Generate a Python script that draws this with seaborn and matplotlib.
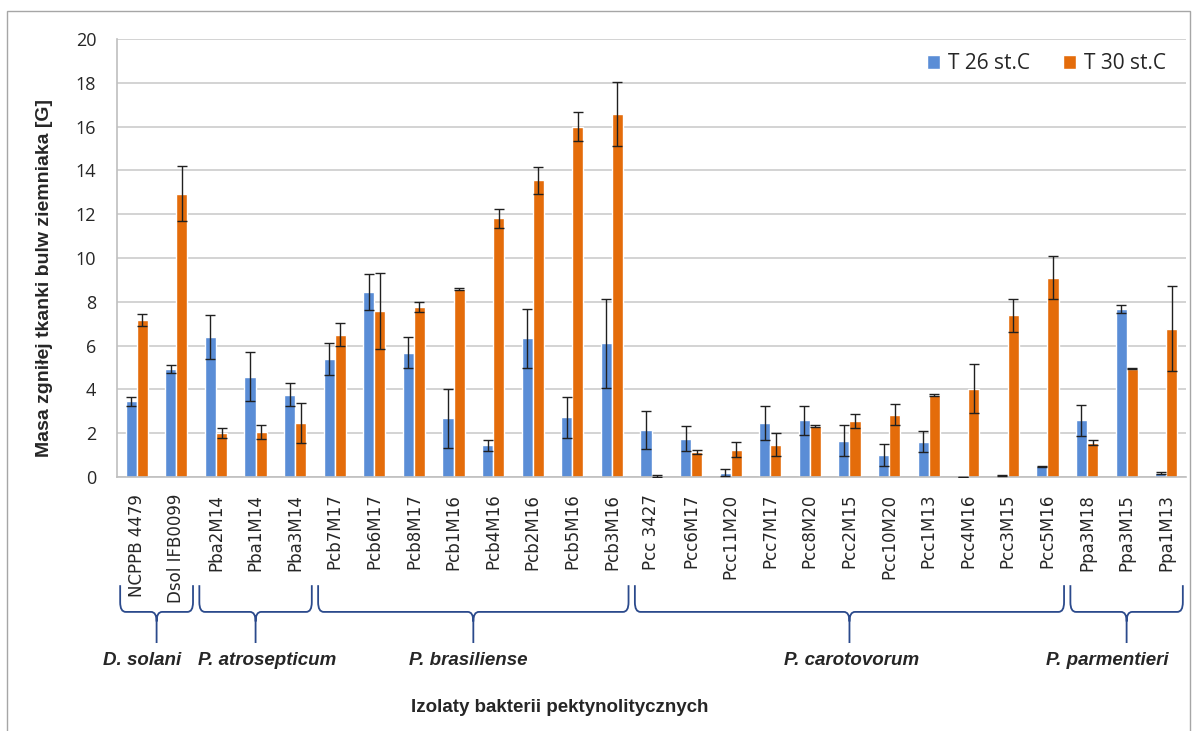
import numpy as np
import pandas as pd
import matplotlib
matplotlib.use("Agg")
import matplotlib.pyplot as plt
import matplotlib.transforms as mtransforms
from matplotlib.path import Path
from matplotlib.patches import PathPatch, Rectangle
import seaborn as sns

# --- data ---
isolates = ["NCPPB 4479", "Dsol IFB0099", "Pba2M14", "Pba1M14", "Pba3M14",
            "Pcb7M17", "Pcb6M17", "Pcb8M17", "Pcb1M16", "Pcb4M16", "Pcb2M16",
            "Pcb5M16", "Pcb3M16", "Pcc 3427", "Pcc6M17", "Pcc11M20", "Pcc7M17",
            "Pcc8M20", "Pcc2M15", "Pcc10M20", "Pcc1M13", "Pcc4M16", "Pcc3M15",
            "Pcc5M16", "Ppa3M18", "Ppa3M15", "Ppa1M13"]

t26 = [3.45, 4.94, 6.39, 4.57, 3.76, 5.39, 8.46, 5.67, 2.68, 1.44, 6.33,
       2.73, 6.10, 2.15, 1.75, 0.20, 2.46, 2.58, 1.66, 1.02, 1.60, 0.0,
       0.05, 0.48, 2.60, 7.67, 0.18]
t26_err = [0.20, 0.18, 1.00, 1.12, 0.53, 0.73, 0.82, 0.71, 1.34, 0.26, 1.36,
           0.93, 2.04, 0.87, 0.58, 0.17, 0.76, 0.67, 0.71, 0.50, 0.48, 0.0,
           0.02, 0.03, 0.71, 0.20, 0.03]

t30 = [7.17, 12.94, 2.01, 2.06, 2.46, 6.49, 7.58, 7.76, 8.60, 11.82, 13.55,
       16.00, 16.57, 0.05, 1.13, 1.24, 1.47, 2.33, 2.55, 2.85, 3.74, 4.04,
       7.38, 9.10, 1.57, 4.94, 6.77]
t30_err = [0.26, 1.26, 0.24, 0.32, 0.90, 0.52, 1.73, 0.21, 0.05, 0.44, 0.62,
           0.65, 1.45, 0.05, 0.09, 0.34, 0.53, 0.06, 0.32, 0.49, 0.06, 1.14,
           0.77, 0.97, 0.10, 0.03, 1.93]

series = ["T 26 st.C", "T 30 st.C"]

groups = ["D. solani", "P. atrosepticum", "P. brasiliense", "P. carotovorum", "P. parmentieri"]
group_first = [0, 2, 5, 13, 24]
group_last = [1, 4, 12, 23, 26]

# --- style ---
BLUE = "#5A8DD6"
ORANGE = "#E46C0A"
GRID = "#D0D0D0"
AXIS = "#BFBFBF"
BRACE = "#2B4A8C"

sns.set_style("white")

df = pd.DataFrame({
    "isolate": isolates * 2,
    "temp": [series[0]] * len(isolates) + [series[1]] * len(isolates),
    "mass": t26 + t30,
})

fig, ax = plt.subplots(figsize=(11.94, 7.31), dpi=100)
fig.subplots_adjust(left=117 / 1194, right=1186 / 1194,
                    bottom=1 - 477 / 731, top=1 - 39 / 731)

sns.barplot(data=df, x="isolate", y="mass", hue="temp", order=isolates,
            hue_order=series, palette=[BLUE, ORANGE], width=0.56, gap=0,
            saturation=1, errorbar=None, ax=ax)

# error bars on top of the seaborn bars
for cont, errs in zip(ax.containers, [t26_err, t30_err]):
    xs = [p.get_x() + p.get_width() / 2 for p in cont]
    hs = [p.get_height() for p in cont]
    ax.errorbar(xs, hs, yerr=errs, fmt="none", ecolor="#202020",
                elinewidth=1.0, capsize=3.5, capthick=1.0, zorder=5)

ax.set_ylim(0, 20)
ax.set_xlim(-0.5, len(isolates) - 0.5)
ax.set_yticks(np.arange(0, 21, 2))
ax.yaxis.grid(True, color=GRID, lw=1.3)
ax.set_axisbelow(True)
for s in ["top", "right"]:
    ax.spines[s].set_visible(False)
ax.spines["left"].set_color(AXIS)
ax.spines["bottom"].set_color(AXIS)
ax.spines["left"].set_linewidth(1.2)
ax.spines["bottom"].set_linewidth(1.2)

ax.tick_params(axis="y", length=7, color=AXIS, width=1.2, pad=8)
for lab in ax.get_yticklabels():
    lab.set_fontfamily("Open Sans")
    lab.set_fontsize(13)
ax.set_xticks(range(len(isolates)))
ax.set_xticklabels(isolates, rotation=90, fontsize=12, family="DejaVu Sans")
ax.tick_params(axis="x", which="major", length=0, pad=12)
ax.set_xticks(np.arange(-0.5, len(isolates), 1), minor=True)
ax.tick_params(axis="x", which="minor", length=7, color=AXIS, width=1.2)

ax.set_xlabel("")
ax.set_ylabel("")

ax.legend(ncol=2, frameon=False, loc="center right",
          bbox_to_anchor=(0.981, 0.943), borderaxespad=0, borderpad=0,
          handlelength=0.65, handleheight=0.65, handletextpad=0.35,
          columnspacing=1.6, prop={"family": "Open Sans", "size": 15})

# braces under the tick labels
trans = mtransforms.blended_transform_factory(ax.transData, ax.transAxes)
yt, yh, yb = -0.247, -0.308, -0.379
dx, dy = 0.14, 0.022
label_x = [0.13, 3.28, 8.36, 18.06, 24.5]
for name, first, last, lx in zip(groups, group_first, group_last, label_x):
    xl, xr = first - 0.42, last + 0.42
    xm = (xl + xr) / 2
    verts = [(xl, yt), (xl, yh + dy), (xl, yh), (xl + dx, yh), (xm - dx, yh),
             (xm, yh), (xm, yh - dy), (xm, yb),
             (xr, yt), (xr, yh + dy), (xr, yh), (xr - dx, yh), (xm + dx, yh),
             (xm, yh), (xm, yh - dy)]
    codes = [Path.MOVETO, Path.LINETO, Path.CURVE3, Path.CURVE3, Path.LINETO,
             Path.CURVE3, Path.CURVE3, Path.LINETO,
             Path.MOVETO, Path.LINETO, Path.CURVE3, Path.CURVE3, Path.LINETO,
             Path.CURVE3, Path.CURVE3]
    ax.add_patch(PathPatch(Path(verts, codes), transform=trans, clip_on=False,
                           fill=False, ec=BRACE, lw=1.3))
    ax.text(lx, -0.418, name, transform=trans, ha="center", va="center",
            fontsize=13.5, fontweight="bold", fontstyle="italic",
            family="Liberation Sans")

fig.text(560 / 1194, 1 - 707 / 731, "Izolaty bakterii pektynolitycznych",
         ha="center", va="center", fontsize=13.5, fontweight="bold",
         family="Liberation Sans")
fig.text(45 / 1194, 1 - 278 / 731, "Masa zgniłej tkanki bulw ziemniaka [G]",
         ha="center", va="center", rotation=90, fontsize=14,
         fontweight="bold", family="Liberation Sans")

# chart frame
fig.add_artist(Rectangle((7 / 1194, -0.01), (1190 - 7) / 1194, (731 - 11) / 731 + 0.01,
                         transform=fig.transFigure, fill=False, ec="#A6A6A6", lw=1))

fig.savefig("out.png", dpi=100)
